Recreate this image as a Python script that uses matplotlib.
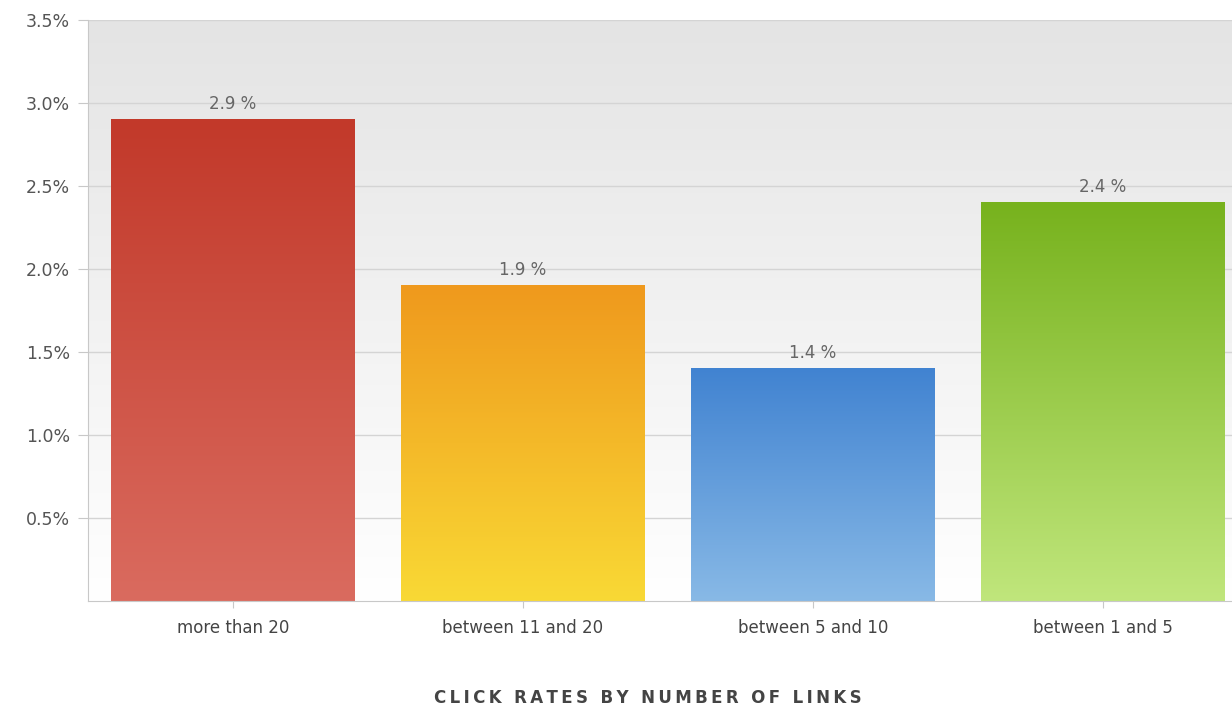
import matplotlib.pyplot as plt
import numpy as np
from matplotlib.colors import LinearSegmentedColormap

# Data
categories = ["more than 20", "between 11 and 20", "between 5 and 10", "between 1 and 5"]
click_rates = [2.9, 1.9, 1.4, 2.4]
yticks = [0.5, 1.0, 1.5, 2.0, 2.5, 3.0, 3.5]
ytick_labels = ["0.5%", "1.0%", "1.5%", "2.0%", "2.5%", "3.0%", "3.5%"]
title = "CLICK RATES BY NUMBER OF LINKS"

# top / bottom colours of each bar gradient
bar_colors = [("#c2392a", "#da6b5f"), ("#ef991d", "#f9d935"),
              ("#4183d1", "#88b9e6"), ("#77b21d", "#c0e67c")]

fig = plt.figure(figsize=(12.32, 7.12), dpi=100)
ax = fig.add_axes([88/1232, 111/712, 1160/1232, 581/712])

x = np.arange(len(categories))
bars = ax.bar(x, click_rates, width=0.84, color="none", zorder=3)

ax.set_xlim(-0.5, 3.5)
ax.set_ylim(0, 3.5)

# background gradient
bg = np.linspace(0, 1, 256).reshape(-1, 1)
bg_cmap = LinearSegmentedColormap.from_list("bg", ["#ffffff", "#e4e4e4"])
ax.imshow(bg, cmap=bg_cmap, aspect="auto", extent=(-0.5, 3.5, 0, 3.5),
          origin="lower", zorder=0)

# gradient fill for every bar
for b, (top, bottom) in zip(bars, bar_colors):
    cmap = LinearSegmentedColormap.from_list("g", [bottom, top])
    x0, y0 = b.get_x(), b.get_y()
    ax.imshow(bg, cmap=cmap, aspect="auto", origin="lower",
              extent=(x0, x0 + b.get_width(), y0, y0 + b.get_height()), zorder=2)

for xi, v in zip(x, click_rates):
    ax.text(xi, v + 0.04, f"{v} %", ha="center", va="bottom",
            fontsize=12, color="#666666", zorder=4)

ax.set_yticks(yticks)
ax.set_yticklabels(ytick_labels)
ax.set_xticks(x)
ax.set_xticklabels(categories)
ax.yaxis.grid(True, color="#d4d4d4", linewidth=1)
ax.set_axisbelow(True)
for gl in ax.get_ygridlines():
    gl.set_zorder(1)

for s in ["top", "right"]:
    ax.spines[s].set_visible(False)
for s in ["left", "bottom"]:
    ax.spines[s].set_color("#c8c8c8")
    ax.spines[s].set_zorder(5)
ax.tick_params(axis="y", length=7, color="#c8c8c8", labelsize=12.5,
               labelcolor="#555555", pad=6)
ax.tick_params(axis="x", length=5, color="#c8c8c8", labelsize=12,
               labelcolor="#444444", pad=8)

fig.text(648/1232, 1 - 698/712, "\u2009".join(title),
         ha="center", va="center", fontsize=12, fontweight="bold", color="#444444")

fig.savefig("out.png", dpi=100)
